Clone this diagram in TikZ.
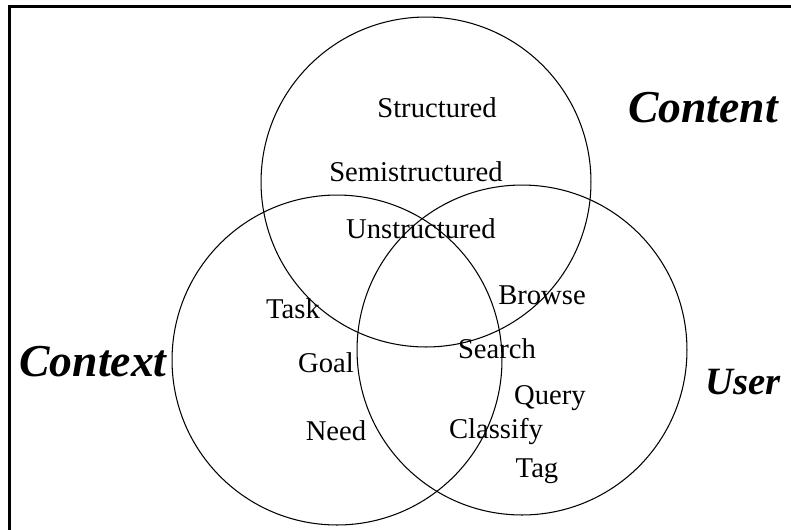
\documentclass[tikz,border=0pt]{standalone}
\usepackage{fontspec}
\setmainfont{Liberation Serif}
\begin{document}
\begin{tikzpicture}[x=0.02cm,y=-0.02cm]
\tikzstyle{set} = [draw,circle,line width=0.6pt,minimum size=6.6cm,inner sep=0];
\tikzstyle{item} = [font=\fontsize{16.3}{19}\selectfont,inner sep=0];
\tikzstyle{area} = [font=\fontsize{26}{30}\selectfont\bfseries\itshape,inner sep=0];
\useasboundingbox (0,0) rectangle (791,529);
\clip (0,0) rectangle (791,529);
\draw [line width=1.7pt] (9.5,6.5) rectangle (820,560);
\node [set] (s1) at (426,182) {};
\node [set] (s2) at (337,360) {};
\node [set] (s3) at (522,350) {};

\node [area] (a1) at (703,108) {Content};
\node [area] (a2) at (93,362) {Context};
\node [area,font=\fontsize{22}{26}\selectfont\bfseries\itshape] (a3) at (743,382) {User};

\node [item] (v1) at (437,108) {Structured};
\node [item] (v2) at (416,172) {Semistructured};
\node [item] (v3) at (421,229) {Unstructured};
\node [item] (v4) at (293,309) {Task};
\node [item] (v5) at (326,363) {Goal};
\node [item] (v6) at (336,431) {Need};
\node [item] (v7) at (542,295) {Browse};
\node [item] (v8) at (497,349) {Search};
\node [item] (v9) at (550,398) {Query};
\node [item] (v10) at (496,431) {Classify};
\node [item] (v11) at (537,471) {Tag};
\end{tikzpicture}
\end{document}
